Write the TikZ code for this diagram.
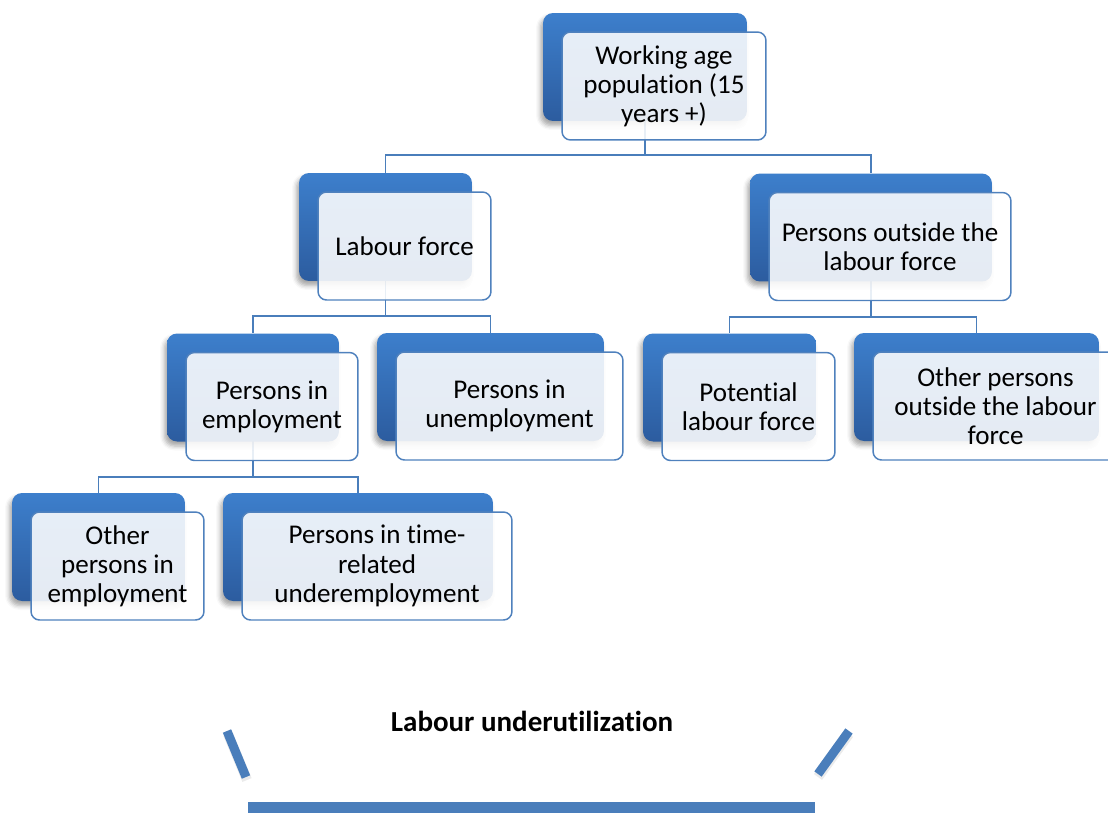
\documentclass[tikz,border=0pt]{standalone}
\usepackage{fontspec}
\setmainfont{Carlito}[Ligatures={NoCommon,NoRare,NoContextual},Contextuals=NoAlternate]
\usetikzlibrary{backgrounds,shadows.blur}

\definecolor{tileblue}{HTML}{3D7FCC}
\definecolor{tiledark}{HTML}{2C5C9F}
\definecolor{rimblue}{HTML}{4F81BD}
\definecolor{barblue}{HTML}{4A7EBB}

% keep t and i apart
\newcommand{\tisep}{t\kern0pt i}

\begin{document}
\begin{tikzpicture}[
  x=0.02cm,y=-0.02cm,
  back/.style={rectangle,rounded corners=0.2cm,minimum height=2.16cm,
    top color=tileblue,bottom color=tiledark,draw=none,
    blur shadow={shadow xshift=-0.5mm,shadow yshift=-0.9mm,
      shadow blur radius=0.9mm,shadow opacity=35}},
  front/.style={rectangle,rounded corners=0.17cm,minimum height=2.16cm,
    draw=rimblue,line width=0.85pt,fill=white,fill opacity=0.88,
    text opacity=1,align=center,inner sep=2pt,
    font=\fontsize{15.4}{16.6}\selectfont},
  link/.style={draw=barblue,line width=0.85pt},
  bar/.style={draw=barblue,line width=#1}
]
\useasboundingbox (0,0) rectangle (1108,812);

% level 1
\node[back,minimum width=4.08cm] (wap-b) at (645,67) {};
\node[front,minimum width=4.08cm] (wap) at (664,86) {Working age\\population (15\\years +)};

% level 2
\node[back,minimum width=3.46cm] (lf-b) at (385.5,227) {};
\node[front,minimum width=3.46cm] (lf) at (404.5,246) {Labour force};
\node[back,minimum width=4.84cm] (olf-b) at (871,227.5) {};
\node[front,minimum width=4.84cm] (olf) at (890,246.5) {Persons outside the\\labour force};

% level 3
\node[back,minimum width=3.44cm] (emp-b) at (253,387.5) {};
\node[front,minimum width=3.44cm] (emp) at (272,406.5) {Persons in\\employment};
\node[back,minimum width=4.54cm] (unemp-b) at (490.5,387) {};
\node[front,minimum width=4.54cm] (unemp) at (509.5,406) {Persons in\\unemployment};
\node[back,minimum width=3.46cm] (pot-b) at (729.5,387.5) {};
\node[front,minimum width=3.46cm] (pot) at (748.5,406.5) {Poten\tisep al\\labour force};
\node[back,minimum width=4.90cm] (oth-b) at (976.5,387) {};
\node[front,minimum width=4.90cm] (oth) at (995.5,406) {Other persons\\outside the labour\\force};

% level 4
\node[back,minimum width=3.46cm] (oemp-b) at (98.5,547) {};
\node[front,minimum width=3.46cm] (oemp) at (117.5,566) {Other\\persons in\\employment};
\node[back,minimum width=5.40cm] (tru-b) at (358,547) {};
\node[front,minimum width=5.40cm] (tru) at (377,566) {Persons in \tisep me-\\related\\underemployment};

% tree lines, kept behind the tiles
\begin{scope}[on background layer]
\draw[link] (wap-b.center) -- ++(0,88) -| (lf-b.north);
\draw[link] (wap-b.center) -- ++(0,88) -| (olf-b.north);
\draw[link] (lf-b.center) -- ++(0,89) -| (emp-b.north);
\draw[link] (lf-b.center) -- ++(0,89) -| (unemp-b.north);
\draw[link] (olf-b.center) -- ++(0,89.5) -| (pot-b.north);
\draw[link] (olf-b.center) -- ++(0,89.5) -| (oth-b.north);
\draw[link] (emp-b.center) -- ++(0,89.5) -| (oemp-b.north);
\draw[link] (emp-b.center) -- ++(0,89.5) -| (tru-b.north);
\end{scope}

% underutilization bracket
\node[font=\fontsize{16.5}{19}\selectfont\bfseries] (lu) at (532,721) {Labour underu\tisep liza\tisep on};
\draw[bar=0.2cm,black!8] (228,734) -- (247,780);
\draw[bar=0.18cm] (227,731) -- (246,777);
\draw[bar=0.2cm,black!8] (849,734) -- (818,777);
\draw[bar=0.18cm] (849,731) -- (818,774);
\draw[bar=0.22cm] (248,807) -- (815,807);
\end{tikzpicture}
\end{document}
